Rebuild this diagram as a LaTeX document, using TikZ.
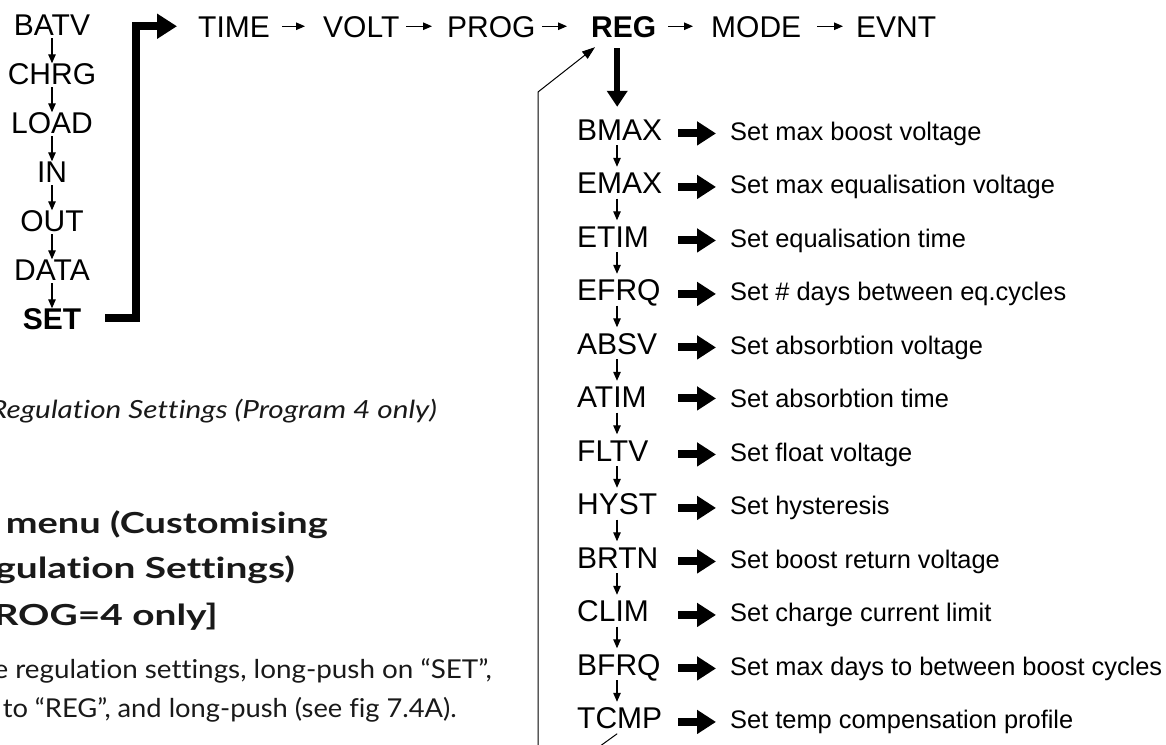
\documentclass[tikz,border=0pt]{standalone}
\usepackage{fontspec}
\setmainfont{Liberation Sans}
\newfontfamily\gill[Ligatures=NoCommon]{Lato}
\usetikzlibrary{arrows.meta}
\begin{document}
\begin{tikzpicture}[x=1pt,y=-1pt,
  lbl/.style={font=\fontsize{30}{36}\selectfont, inner sep=0pt, text height=21.5pt, text depth=0pt},
  desc/.style={font=\fontsize{25.4}{30}\selectfont, inner sep=0pt, anchor=base west},
  sarr/.style={line width=1.2pt, -{Triangle[length=9pt,width=7.5pt]}},
  fat/.style={line width=8pt, -{Triangle[length=19pt,width=23pt]}},
  gtext/.style={inner sep=0pt, anchor=base east, text=black!90},
]
\useasboundingbox (0,0) rectangle (1166,744);
\clip (0,0) rectangle (1166,744);

% left column
\node[lbl,anchor=base] (batv) at (52,35) {BATV};
\node[lbl,anchor=base] (chrg) at (52,84) {CHRG};
\node[lbl,anchor=base] (load) at (52,133) {LOAD};
\node[lbl,anchor=base] (in) at (52,182) {IN};
\node[lbl,anchor=base] (out) at (52,231) {OUT};
\node[lbl,anchor=base] (data) at (52,280) {DATA};
\node[lbl,anchor=base,font=\fontsize{30}{36}\selectfont\bfseries] (set) at (52,329) {SET};
\foreach \a/\b in {batv/chrg,chrg/load,load/in,in/out,out/data,data/set}
  \draw[sarr, shorten <=3pt, shorten >=-1pt] (\a) -- (\b);

% top row
\node[lbl,anchor=base west] (time) at (198,37) {TIME};
\node[lbl,anchor=base west] (volt) at (323,37) {VOLT};
\node[lbl,anchor=base west] (prog) at (447,37) {PROG};
\node[lbl,anchor=base west,font=\fontsize{30}{36}\selectfont\bfseries] (reg) at (591,37) {REG};
\node[lbl,anchor=base west] (mode) at (711,37) {MODE};
\node[lbl,anchor=base west] (evnt) at (856,37) {EVNT};
\draw[sarr] ([xshift=12pt]time.east) -- ([xshift=-18pt]volt.west);
\draw[sarr] ([xshift=6.5pt]volt.east) -- ([xshift=-15pt]prog.west);
\draw[sarr] ([xshift=6.5pt]prog.east) -- ([xshift=-24pt]reg.west);
\draw[sarr] ([xshift=12pt]reg.east) -- ([xshift=-18pt]mode.west);
\draw[sarr] ([xshift=16pt]mode.east) -- ([xshift=-13pt]evnt.west);

% SET -> TIME thick connector
\coordinate (bend) at (135.5,26.25);
\draw[line width=8pt, line cap=butt, -{Triangle[length=20pt,width=24pt]}]
  ([xshift=24pt]set.east) -| (bend) -- ([xshift=-21pt]time.west);

% right column
\foreach \n/\t/\d/\k in {
  bmax/BMAX/Set max boost voltage/0,
  emax/EMAX/Set max equalisation voltage/1,
  etim/ETIM/Set equalisation time/2,
  efrq/EFRQ/Set \# days between eq.cycles/3,
  absv/ABSV/Set absorbtion voltage/4,
  atim/ATIM/Set absorbtion time/5,
  fltv/FLTV/Set float voltage/6,
  hyst/HYST/Set hysteresis/7,
  brtn/BRTN/Set boost return voltage/8,
  clim/CLIM/Set charge current limit/9,
  bfrq/BFRQ/Set max days to between boost cycles/10,
  tcmp/TCMP/Set temp compensation profile/11}
{
  \node[lbl,anchor=base west] (\n) at (577,140+53.5*\k) {\t};
  \node[desc] (d\n) at (730,140+53.5*\k) {\d};
  \draw[fat] ([xshift=-52pt]d\n.west) -- ([xshift=-14pt]d\n.west);
}
\coordinate (ax) at (617,0);
\foreach \a/\b in {bmax/emax,emax/etim,etim/efrq,efrq/absv,absv/atim,atim/fltv,fltv/hyst,hyst/brtn,brtn/clim,clim/bfrq,bfrq/tcmp}
  \draw[sarr, shorten <=5pt, shorten >=5pt] (\a.south -| ax) -- (\b.north -| ax);

% REG -> BMAX
\draw[line width=6.5pt, -{Triangle[length=16pt,width=20pt]}]
  ([xshift=-6.5pt,yshift=-11pt]reg.south) -- ([xshift=-6.5pt]reg.south |- bmax.north)
  [shorten >=11.5pt];

% return line
\coordinate (retb) at (538,791);
\coordinate (rett) at (538,92);
\draw[line width=1pt, -{Triangle[length=13pt,width=9pt]}]
  ([xshift=-2.5pt,yshift=-5pt]tcmp.south) -- (retb) -- (rett) -- ([xshift=4pt,yshift=-10pt]reg.south west);

% cut-off page text
\node[gtext, font=\gill\itshape\fontsize{25}{30}\selectfont] (cap) at (437,418) {\scalebox{1.19}[1]{Regulation Settings (Program 4 only)}};
\node[gtext, font=\gill\bfseries\fontsize{29}{34}\selectfont] (h1) at (328,533) {\scalebox{1.31}[1]{menu (Customising}};
\node[gtext, font=\gill\bfseries\fontsize{29}{34}\selectfont] (h2) at (295,578) {\scalebox{1.34}[1]{gulation Settings)}};
\node[gtext, font=\gill\bfseries\fontsize{29}{34}\selectfont] (h3) at (218,625) {\scalebox{1.34}[1]{ROG=4 only]}};
\node[gtext, font=\gill\fontsize{26}{30}\selectfont] (b1) at (492,678) {\scalebox{1.07}[1]{e regulation settings, long-push on “SET”,}};
\node[gtext, font=\gill\fontsize{26}{30}\selectfont] (b2) at (457,717) {\scalebox{1.05}[1]{to “REG”, and long-push (see fig 7.4A).}};
\end{tikzpicture}
\end{document}
